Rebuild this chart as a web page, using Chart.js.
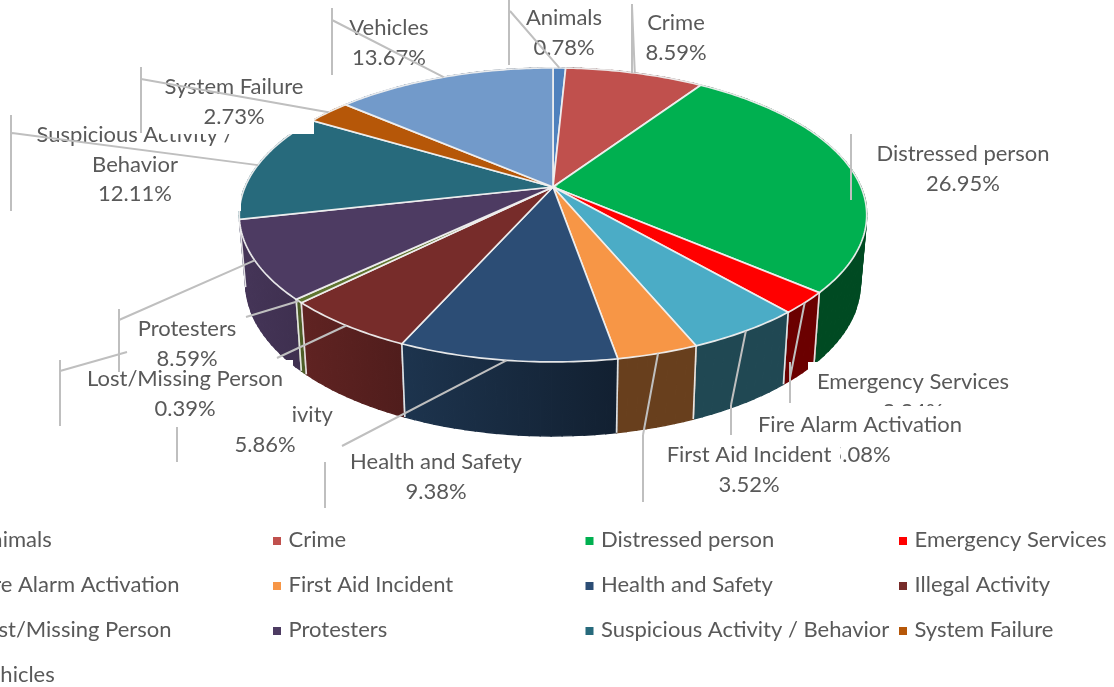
<!DOCTYPE html>
<html>
<head>
<meta charset="utf-8">
<title>Incidents by type</title>
<script src="https://cdn.jsdelivr.net/npm/chart.js@4"></script>
<style>
    html, body { margin: 0; padding: 0; background: #fff; overflow: hidden; }
    canvas { display: block; }
</style>
</head>
<body>
<canvas id="pieChart" width="1114" height="687"></canvas>
<script>
// data
var categories = ["Animals", "Crime", "Distressed person", "Emergency Services", "Fire Alarm Activation",
    "First Aid Incident", "Health and Safety", "Illegal Activity", "Lost/Missing Person", "Protesters",
    "Suspicious Activity / Behavior", "System Failure", "Vehicles"];
var shares = [0.78, 8.59, 26.95, 2.34, 5.08, 3.52, 9.38, 5.86, 0.39, 8.59, 12.11, 2.73, 13.67];
var sliceColors = ["#4F81BD", "#C0504D", "#00B050", "#FF0000", "#4BACC6", "#F79646", "#2C4D75",
    "#772C2A", "#5F7530", "#4D3B62", "#276A7C", "#B65708", "#729ACA"];

// where the labels sit: centre x, first line y, how the name wraps, white box behind it [x, y, w, h]
var labelX = [564, 676, 963, 913, 860, 749, 436, 265, 185, 187, 135, 234, 389];
var labelY = [18, 23, 154, 382, 425, 455, 462, 415, 379, 329, 135, 87, 28];
var labelWrap = { 10: ["Suspicious Activity /", "Behavior"] };
var labelBox = [null, null, null, [808, 362, 210, 60], [750, 406, 220, 58], [655, 437, 185, 60],
    [342, 446, 190, 60], [197, 404, 136, 60], [85, 360, 208, 66], [127, 312, 120, 58],
    [40, 120, 201, 91], [160, 76, 154, 58], null];

// leader lines: visible end of the slanted part, then the upright tick [x, y0, y1]
var leaderEnd = [[510, 11], [632, 6], [851, 168], [790, 378], [731, 405], [643, 435], [342, 446],
    [277, 358], [246, 317], [119, 320], [12, 133], [141, 79], [332, 20]];
var leaderTick = [[509, 0, 65], [632, 4, 73], [851, 134, 200], [790, 362, 403], [731, 405, 435],
    [643, 435, 502], [325, 462, 508], [177, 427, 462], [60, 360, 426], [119, 309, 372],
    [11, 115, 211], [141, 67, 133], [332, 8, 75]];
var lostLeaderRest = [[127, 352], [60, 371]];

var legendColumns = [-40, 273, 585.5, 899];
var legendRows = [540, 585, 630, 675];

// perspective of the tilted disc
var CX = 553, CY = 187, RX = 308, RY = 141.7, PERSP = 0.19;
var FONT = '22px Lato, "Open Sans", sans-serif';
var TEXT_COLOR = "#595959";

function topPoint(theta) {
    var u = Math.sin(theta), v = -Math.cos(theta), w = 1 - PERSP * v;
    return { x: CX + RX * u / w, y: CY + RY * v / w };
}

function bottomPoint(theta) {
    var p = topPoint(theta), v = -Math.cos(theta);
    return { x: CX + (p.x - CX) * 0.98, y: p.y + 66 + 8 * v };
}

// side walls get lighter towards the left
function shade(hex, theta) {
    var u = Math.sin(theta);
    var f = u >= 0.15 ? 0.42 : Math.min(0.9, 0.42 + (0.15 - u) * 0.45);
    var n = parseInt(hex.slice(1), 16);
    return "rgb(" + Math.round((n >> 16) * f) + "," + Math.round(((n >> 8) & 255) * f) + "," + Math.round((n & 255) * f) + ")";
}

function tracePoints(ctx, from, to, pointFn) {
    var steps = Math.max(2, Math.ceil(Math.abs(to - from) / 0.015));
    for (var i = 0; i <= steps; i++) {
        var p = pointFn(from + (to - from) * i / steps);
        ctx.lineTo(p.x, p.y);
    }
}

// wall of one slice as narrow strips, so the silhouette runs straight from rim to rim
function drawWall(ctx, s) {
    var pa = topPoint(s.a), pb = topPoint(s.b);
    var grad = ctx.createLinearGradient(pa.x, 0, pb.x + 0.01, 0);
    grad.addColorStop(0, shade(sliceColors[s.i], s.a));
    grad.addColorStop(1, shade(sliceColors[s.i], s.b));
    ctx.fillStyle = ctx.strokeStyle = grad;
    ctx.lineWidth = 1.4;
    var steps = Math.max(2, Math.ceil((s.b - s.a) / 0.03));
    for (var i = 0; i < steps; i++) {
        var t0 = s.a + (s.b - s.a) * i / steps;
        var t1 = s.a + (s.b - s.a) * (i + 1) / steps;
        var p0 = topPoint(t0), p1 = topPoint(t1), q1 = bottomPoint(t1), q0 = bottomPoint(t0);
        ctx.beginPath();
        ctx.moveTo(p0.x, p0.y);
        ctx.lineTo(p1.x, p1.y);
        ctx.lineTo(q1.x, q1.y);
        ctx.lineTo(q0.x, q0.y);
        ctx.closePath();
        ctx.fill();
        ctx.stroke();
    }
    ctx.strokeStyle = "rgba(245,245,245,0.9)";
    ctx.lineWidth = 1.6;
    [s.a, s.b].forEach(function (t) {
        var p = topPoint(t), q = bottomPoint(t);
        ctx.beginPath();
        ctx.moveTo(p.x, p.y);
        ctx.lineTo(q.x, q.y);
        ctx.stroke();
    });
}

var pie3d = {
    id: "pie3d",
    beforeDatasetsDraw: function (chart) {
        var ctx = chart.ctx;
        var arcs = chart.getDatasetMeta(0).data;
        var slices = arcs.map(function (arc, i) {
            // chart.js starts at -90deg, here 0 is the top of the disc
            return { i: i, a: arc.startAngle + Math.PI / 2, b: arc.endAngle + Math.PI / 2 };
        });
        chart.$slices = slices;

        // walls, back to front
        slices.slice().sort(function (s, t) {
            return -Math.cos((s.a + s.b) / 2) - -Math.cos((t.a + t.b) / 2);
        }).forEach(function (s) {
            drawWall(ctx, s);
        });

        // top faces
        slices.forEach(function (s) {
            ctx.beginPath();
            ctx.moveTo(CX, CY);
            tracePoints(ctx, s.a, s.b, topPoint);
            ctx.closePath();
            ctx.fillStyle = sliceColors[s.i];
            ctx.fill();
            ctx.strokeStyle = "rgba(240,240,240,0.95)";
            ctx.lineWidth = 1.7;
            ctx.stroke();
        });
        return false;
    },
    afterDraw: function (chart) {
        var ctx = chart.ctx;
        var slices = chart.$slices;
        ctx.save();
        ctx.font = FONT;
        ctx.textAlign = "center";
        ctx.textBaseline = "middle";

        // labels in series order, each with its opaque box, as the original overlaps them
        categories.forEach(function (name, i) {
            var box = labelBox[i];
            if (box) {
                ctx.fillStyle = "#fff";
                ctx.fillRect(box[0], box[1], box[2], box[3]);
            }
            var lines = (labelWrap[i] || [name]).concat([shares[i].toFixed(2) + "%"]);
            ctx.fillStyle = TEXT_COLOR;
            lines.forEach(function (line, k) {
                ctx.fillText(line, labelX[i], labelY[i] + k * 29.5);
            });
        });

        // leaders start on the rim at the middle of their slice
        ctx.strokeStyle = "#BFBFBF";
        ctx.lineWidth = 2;
        slices.forEach(function (s) {
            var rim = topPoint((s.a + s.b) / 2);
            var end = leaderEnd[s.i], tick = leaderTick[s.i];
            ctx.beginPath();
            ctx.moveTo(rim.x, rim.y);
            ctx.lineTo(end[0], end[1]);
            ctx.moveTo(tick[0], tick[1]);
            ctx.lineTo(tick[0], tick[2]);
            ctx.stroke();
        });
        ctx.beginPath();
        ctx.moveTo(lostLeaderRest[0][0], lostLeaderRest[0][1]);
        ctx.lineTo(lostLeaderRest[1][0], lostLeaderRest[1][1]);
        ctx.stroke();

        // legend, four columns, first one runs off the left edge like the original
        ctx.textAlign = "left";
        categories.forEach(function (name, i) {
            var x = legendColumns[i % 4], y = legendRows[Math.floor(i / 4)];
            ctx.fillStyle = sliceColors[i];
            ctx.fillRect(x, y - 3, 8, 8);
            ctx.fillStyle = TEXT_COLOR;
            ctx.fillText(name, x + 15.5, y);
        });
        ctx.restore();
    }
};

new Chart(document.getElementById("pieChart").getContext("2d"), {
    type: "pie",
    data: {
        labels: categories,
        datasets: [{ data: shares, backgroundColor: sliceColors }]
    },
    options: {
        responsive: false,
        animation: false,
        plugins: {
            legend: { display: false },
            tooltip: { enabled: false }
        }
    },
    plugins: [pie3d]
});
</script>
</body>
</html>
